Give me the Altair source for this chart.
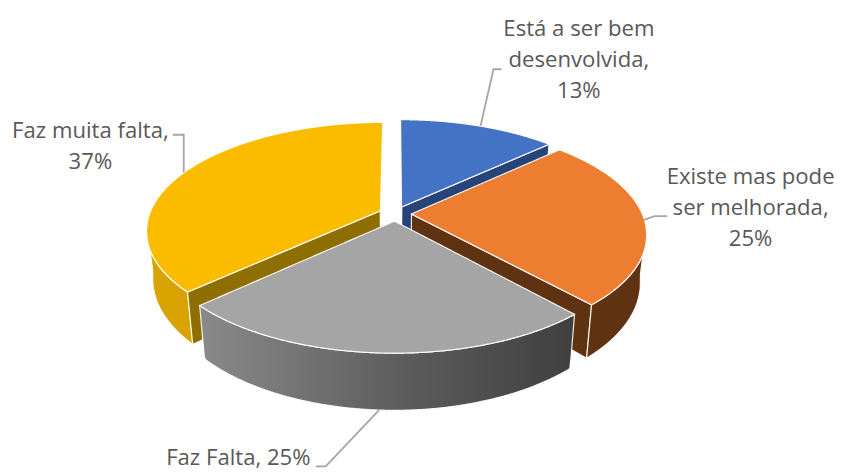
import numpy as np
import altair as alt

categories = ["Está a ser bem desenvolvida", "Existe mas pode ser melhorada", "Faz Falta", "Faz muita falta"]
values = [13.0, 25.4, 24.6, 37.0]
top_colors = ["#4472c4", "#ed7d31", "#a5a5a5", "#fbbc00"]
label_lines = [["Está a ser bem", "desenvolvida,", "13%"],
               ["Existe mas pode", "ser melhorada,", "25%"],
               ["Faz Falta, 25%"],
               ["Faz muita falta,", "37%"]]

# --- projection of the exploded disc on the page (layout only) ---
CX, CY, A, B, K, H, SHRINK, EXPLODE = 398.0, 213.5, 232.5, 106.0, 0.18, 46.5, 0.975, 0.07
W, HT = 827, 465
x_scale = alt.Scale(domain=[8, 8 + W], nice=False, zero=False)
y_scale = alt.Scale(domain=[8 + HT, 8], nice=False, zero=False)

edges = np.concatenate([[0], np.cumsum(values)]) / sum(values) * 2 * np.pi
slices = [(edges[i], edges[i + 1]) for i in range(4)]


def proj(theta, r, slice_i, low=False):
    a0, a1 = slices[slice_i]
    mid = (a0 + a1) / 2
    X = r * np.sin(theta) + EXPLODE * np.sin(mid)
    Y = r * np.cos(theta) + EXPLODE * np.cos(mid)
    w = 1 + K * Y
    sx, sy = A * X / w, -B * Y / w
    if low:
        return CX + sx * SHRINK, CY + sy + H / w
    return CX + sx, CY + sy


def arc(i, t0, t1, low=False, n=120):
    return [proj(t, 1.0, i, low) for t in np.linspace(t0, t1, n)]


def scan(poly, n=320):
    """Polygon -> columns x, y, y2 for an area mark."""
    pts = np.array(poly)
    xs = np.linspace(pts[:, 0].min() + 0.01, pts[:, 0].max() - 0.01, n)
    rows = []
    for x in xs:
        ys = []
        for (x0, y0), (x1, y1) in zip(pts, np.roll(pts, -1, axis=0)):
            if (x0 - x) * (x1 - x) <= 0 and x0 != x1:
                ys.append(y0 + (x - x0) / (x1 - x0) * (y1 - y0))
        if ys:
            rows.append({"x": float(x), "y": float(min(ys)), "y2": float(max(ys))})
    return rows


def piece(poly, fill, sw=1.2):
    return alt.Chart(alt.Data(values=scan(poly))).mark_area(
        fill=fill, stroke="white", strokeWidth=sw, strokeOpacity=0.9, interpolate="linear"
    ).encode(
        x=alt.X("x:Q", scale=x_scale, axis=None),
        y=alt.Y("y:Q", scale=y_scale, axis=None),
        y2="y2:Q",
    )


def top(i):
    a0, a1 = slices[i]
    return [proj(0, 0, i)] + arc(i, a0, a1)


def radial(i, t):
    return [proj(0, 0, i), proj(t, 1, i), proj(t, 1, i, True), proj(0, 0, i, True)]


def outer(i, t0, t1):
    return arc(i, t0, t1) + arc(i, t0, t1, True)[::-1]


vis0, vis1 = np.radians(98), np.radians(262)
gray_wall = alt.Gradient(gradient="linear", x1=0, x2=1, y1=0, y2=0,
                         stops=[alt.GradientStop(color="#8a8a8a", offset=0),
                                alt.GradientStop(color="#5c5c5c", offset=0.55),
                                alt.GradientStop(color="#3f3f3f", offset=1)])

layers = [
    piece(radial(0, slices[0][1]), "#264478"),
    piece(top(0), top_colors[0]),
    piece(outer(3, slices[3][0], vis1), "#d8a300"),
    piece(radial(3, slices[3][0]), "#8f6e00"),
    piece(top(3), top_colors[3]),
    piece(radial(1, slices[1][1]), "#5f3311"),
    piece(outer(1, vis0, slices[1][1]), "#5f3311"),
    piece(top(1), top_colors[1]),
    piece(outer(2, slices[2][0], slices[2][1]), gray_wall),
    piece(top(2), top_colors[2]),
]

# --- leader lines ---
leaders = [
    [(505, 68), (497, 68), (484, 125)],
    [(672, 216), (659, 216), (648, 220)],
    [(382, 411), (328, 468), (318, 468)],
    [(174, 134), (185, 134), (185, 172)],
]
for pts in leaders:
    rows = [{"x": p[0], "y": p[1], "o": j} for j, p in enumerate(pts)]
    layers.append(
        alt.Chart(alt.Data(values=rows)).mark_line(color="#a6a6a6", strokeWidth=1.8).encode(
            x=alt.X("x:Q", scale=x_scale, axis=None),
            y=alt.Y("y:Q", scale=y_scale, axis=None),
            order="o:Q",
        )
    )

# --- labels ---
anchors = [(583, 28), (756, 177), (240, 460), (91, 130)]
text_rows = []
for (ax, ay), lines in zip(anchors, label_lines):
    for j, line in enumerate(lines):
        text_rows.append({"x": ax, "y": ay + j * 31, "t": line})
layers.append(
    alt.Chart(alt.Data(values=text_rows)).mark_text(
        font="Open Sans", fontSize=22.3, color="#595959", align="center", baseline="middle"
    ).encode(
        x=alt.X("x:Q", scale=x_scale, axis=None),
        y=alt.Y("y:Q", scale=y_scale, axis=None),
        text="t:N",
    )
)

chart = alt.layer(*layers).properties(width=W, height=HT, padding=0).configure_view(stroke=None)
chart.save("out.html", embed_options={"renderer": "svg", "actions": False})
